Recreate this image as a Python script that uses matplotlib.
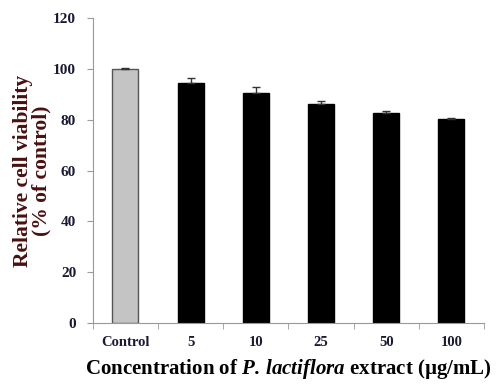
import matplotlib
matplotlib.use("Agg")
import matplotlib.pyplot as plt
import numpy as np

categories = ["Control", "5", "10", "25", "50", "100"]
viability = [100.0, 94.6, 90.4, 86.3, 82.5, 80.3]
errors = [0.3, 2.0, 2.4, 1.2, 0.8, 0.4]

plt.rcParams["font.family"] = ["Liberation Serif", "DejaVu Serif"]
plt.rcParams["font.weight"] = "bold"
plt.rcParams["mathtext.fontset"] = "custom"
plt.rcParams["mathtext.rm"] = "Liberation Serif:bold"
plt.rcParams["mathtext.it"] = "Liberation Serif:italic:bold"
plt.rcParams["mathtext.bf"] = "Liberation Serif:italic:bold"

fig = plt.figure(figsize=(4.99, 3.87), dpi=100)
ax = fig.add_axes([0.186, 0.165, 0.784, 0.788])

x = np.arange(len(categories))
colors = ["#c4c4c4"] + ["#000000"] * (len(categories) - 1)
edges = ["#555555"] + ["#000000"] * (len(categories) - 1)
ax.bar(x, viability, width=0.4, color=colors, edgecolor=edges, linewidth=1.0, zorder=2)
ax.errorbar(x, viability, yerr=[np.zeros(len(errors)), errors], fmt="none",
            ecolor="#333333", elinewidth=1.0, capsize=3, capthick=1.0, zorder=3)

ax.set_xlim(-0.5, len(categories) - 0.5)
ax.set_ylim(0, 120)
ax.set_yticks(np.arange(0, 121, 20))
ax.set_xticks(x)
ax.set_xticklabels(categories)
ax.set_xticks(np.arange(-0.5, len(categories)), minor=True)
ax.tick_params(axis="x", which="major", length=0, pad=9, labelsize=10.5, labelcolor="#1a1a33")
ax.tick_params(axis="x", which="minor", length=4, color="#999999")
ax.tick_params(axis="y", length=4, color="#999999", pad=8, labelsize=11, labelcolor="#1a1a33")
for lbl in ax.get_xticklabels() + ax.get_yticklabels():
    lbl.set_fontweight("bold")

for side in ["top", "right"]:
    ax.spines[side].set_visible(False)
for side in ["left", "bottom"]:
    ax.spines[side].set_color("#999999")

ax.set_ylabel("Relative cell viability\n(% of control)", fontsize=15.5, fontweight="bold",
              color="#4a1010", linespacing=0.95, labelpad=1)
ax.set_xlabel("Concentration of $\\mathbf{P.\\,lactiflora}$ extract (\u00b5g/mL)",
              fontsize=15, fontweight="bold", labelpad=6)

fig.savefig("out.png", dpi=100)
